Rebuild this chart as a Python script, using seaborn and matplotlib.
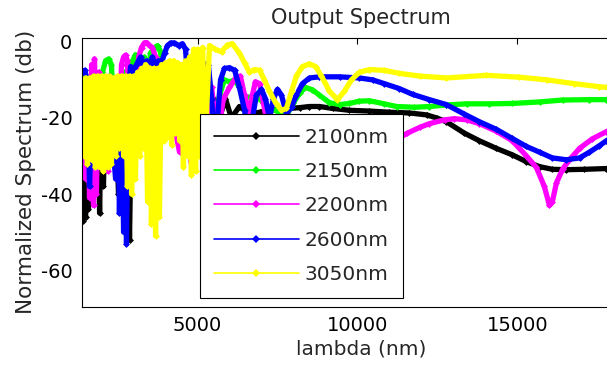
import numpy as np
import pandas as pd
import matplotlib
matplotlib.use("Agg")
import matplotlib.pyplot as plt
import seaborn as sns
from matplotlib.lines import Line2D

# wavelength (nm) / normalized spectrum (dB)
lam_2100 = [1380, 1410, 1470, 1500, 1560, 1590, 1660, 1690, 1750, 1810, 1875, 1940, 2000, 2060, 2125,
            2190, 2250, 2340, 2440, 2530, 2625, 2720, 2810, 2875, 2940, 3030, 3125, 3220, 3310, 3410,
            3500, 3625, 3750, 3875, 4000, 4125, 4220, 4310, 4440, 4560, 4660, 4720, 4810, 4910, 5000,
            5160, 5310, 5500, 5690, 5875, 6060, 6310, 6625, 6940, 7250, 7560, 7875, 8190, 8500, 8810,
            9220, 9750, 10375, 11000, 11625, 12160, 12470, 12780, 13340, 13810, 14340, 14840, 15280,
            15690, 16090, 16530, 17090, 17780, 18810]
db_2100 = [-15, -47, -20, -46, -18, -44, -15, -40, -14, -30, -15, -45, -14, -38, -15,
           -30, -14, -28, -15, -40, -15, -48, -15, -52, -15, -28, -13, -25, -12, -22,
           -12, -24, -11, -22, -12, -24, -20, -13, -14, -11.5, -13, -16, -25, -15, -22,
           -13, -22, -15, -20, -15, -20, -17, -19, -18.5, -18, -17.8, -17.5, -17.3, -17, -17,
           -17.5, -18, -18.2, -18.5, -18.7, -19.2, -20, -21, -24, -26, -28, -29.7, -31.5,
           -32.8, -33.5, -33.6, -33.5, -33.3, -33]

lam_2150 = [1380, 1470, 1560, 1660, 1750, 1840, 1940, 2030, 2125, 2220, 2310, 2410, 2500, 2590, 2690,
            2780, 2875, 2970, 3060, 3160, 3250, 3340, 3440, 3530, 3660, 3750, 3840, 3940, 4030, 4125,
            4220, 4310, 4410, 4500, 4590, 4690, 4780, 4875, 4970, 5060, 5220, 5375, 5530, 5690, 5840,
            6000, 6160, 6250, 6375, 6500, 6690, 6875, 7060, 7250, 7440, 7625, 7810, 8000, 8190, 8375,
            8590, 8810, 9125, 9440, 9750, 10060, 10375, 10840, 11220, 11780, 12250, 12780, 13410,
            14125, 14840, 15690, 16410, 17250, 17780, 18810]
db_2150 = [-12, -9, -25, -12, -28, -12, -30, -8, -5, -4.5, -6, -25, -10, -28, -8,
           -22, -9, -5, -3.4, -6, -20, -4, -18, -3, -1.5, -1, -2.5, -8, -20, -9,
           -22, -10, -8, -6, -6.5, -12, -25, -10, -8, -22, -9, -12, -22, -14, -10,
           -10.5, -10, -11, -13, -14.5, -14.5, -14.5, -16, -17.5, -18, -19, -19, -16, -13.5, -12,
           -12.6, -14, -16, -16.5, -16.2, -15.6, -15.5, -16.3, -17, -17.2, -17, -16.6, -16.3,
           -16.3, -16.2, -15.8, -15.3, -15.2, -15.2, -15]

lam_2200 = [1380, 1440, 1500, 1560, 1625, 1690, 1750, 1780, 1840, 1910, 1970, 2030, 2090, 2160, 2190,
            2250, 2340, 2440, 2530, 2625, 2690, 2750, 2810, 2875, 2970, 3060, 3160, 3250, 3340, 3410,
            3500, 3590, 3690, 3780, 3875, 3970, 4060, 4160, 4250, 4340, 4440, 4500, 4590, 4690, 4750,
            4840, 4940, 5030, 5160, 5280, 5440, 5625, 5810, 6000, 6190, 6340, 6470, 6590, 6690, 6810,
            6940, 7060, 7190, 7410, 7875, 8500, 9440, 10375, 11160, 11560, 11940, 12250, 12720, 13030,
            13410, 13810, 14340, 14840, 15280, 15590, 15840, 16000, 16090, 16220, 16410, 16625,
            16940, 17340, 17780, 18190, 18810]
db_2200 = [-34, -12, -36, -10, -41, -6, -43, -4.5, -40, -8, -30, -12, -28, -10, -34,
           -12, -25, -10, -28, -6, -4, -3.5, -5, -22, -9, -25, -4, -1.5, -0.3, -0.2,
           -1, -1.5, -4, -20, -8, -25, -10, -22, -10, -25, -29, -13, -16, -12, -29,
           -34, -30, -15, -10, -28, -12, -25, -15, -12, -9.5, -9, -14, -19, -15, -10.5,
           -11, -16, -22, -28, -32, -33, -32, -29, -26, -24, -22.5, -21.5, -20.5, -20.2,
           -20.5, -21.5, -23.5, -26, -30, -33, -38, -43, -42, -37, -33.5, -31,
           -28, -25.5, -23.6, -22, -20]

lam_2600 = [1380, 1470, 1560, 1625, 1690, 1750, 1840, 1940, 2030, 2125, 2190, 2250, 2340, 2440, 2500,
            2560, 2625, 2690, 2750, 2780, 2840, 2910, 2970, 3030, 3125, 3220, 3310, 3410, 3500, 3590,
            3690, 3780, 3875, 3970, 4060, 4160, 4280, 4410, 4530, 4625, 4690, 4750, 4810, 4875, 4940,
            5000, 5060, 5160, 5250, 5340, 5440, 5530, 5625, 5720, 5840, 6000, 6160, 6310, 6470, 6590,
            6720, 6840, 7000, 7125, 7250, 7375, 7500, 7625, 7780, 7940, 8090, 8280, 8500, 8810, 9440,
            10060, 10470, 10840, 11310, 11720, 12250, 12780, 13340, 13810, 14340, 14840, 15280, 15690,
            16090, 16530, 16940, 17250, 17560, 17780, 18190, 18810]
db_2600 = [-8, -7.5, -10, -38, -22, -9, -20, -10, -25, -10, -18, -9, -26, -36, -12,
           -45, -14, -50, -20, -53, -12, -6.5, -12, -7, -5.5, -4, -6, -5, -6, -4,
           -6.5, -5, -5.5, -3, -1, -0.3, -0.3, -1, -0.5, -2, -9, -18, -12, -7, -6,
           -10, -20, -6, -5.8, -6, -15, -25, -20, -10, -7, -6.8, -7.5, -12, -18, -24,
           -20, -14, -12.5, -15, -20, -15, -12.5, -14, -19, -17, -14, -11, -9.5, -9.2, -9.2,
           -9.5, -10, -11, -12.3, -13.8, -15.2, -16.5, -19, -21, -23, -25.4, -27.5, -29,
           -30.5, -31, -30.5, -29, -27.3, -26, -24, -21.5]

lam_3050 = [1380, 1440, 1500, 1560, 1625, 1690, 1750, 1810, 1875, 1940, 2000, 2060, 2125, 2190, 2250,
            2310, 2375, 2440, 2500, 2560, 2625, 2690, 2750, 2810, 2875, 2940, 3000, 3060, 3125, 3190,
            3250, 3310, 3375, 3440, 3500, 3560, 3625, 3690, 3750, 3810, 3875, 3940, 4000, 4060, 4125,
            4190, 4250, 4310, 4375, 4440, 4500, 4560, 4625, 4690, 4750, 4810, 4875, 4940, 5000, 5060,
            5160, 5250, 5375, 5560, 5750, 5940, 6090, 6310, 6470, 6625, 6780, 6940, 7090, 7250, 7440,
            7625, 7780, 7940, 8090, 8280, 8500, 8690, 8875, 9125, 9375, 9590, 9810, 10060, 10375,
            10840, 11310, 11940, 12780, 14030, 15060, 15910, 16780, 17560, 18810]
db_3050 = [-10, -30, -9.5, -32, -9.5, -31, -9, -33, -9, -33, -9, -34, -9, -33, -9,
           -32, -9.5, -30, -9, -28, -9, -30, -9, -38, -9, -40, -9, -36, -8, -30,
           -7, -28, -6, -42, -7, -48, -7, -51, -7, -46, -6, -26, -5.5, -25, -5,
           -27, -5, -24, -5.5, -26, -6, -33, -5, -30, -4, -35, -2, -34, -2, -30,
           -1.5, -25, -1, -2, -2.6, -0.8, -0.5, -3, -5.5, -8, -7.3, -7.5, -10, -13, -16,
           -18, -17.5, -13, -9, -6.5, -5.8, -6.5, -9, -13, -15.2, -13, -10, -8, -7.3,
           -7.5, -8.3, -9, -9.5, -8.8, -9.3, -10, -11, -11.8, -12.8]

labels = ["2100nm", "2150nm", "2200nm", "2600nm", "3050nm"]
colors = ["#000000", "#00ff00", "#ff00ff", "#0000ff", "#ffff00"]
lams = [lam_2100, lam_2150, lam_2200, lam_2600, lam_3050]
dbs = [db_2100, db_2150, db_2200, db_2600, db_3050]

frames = []
for lab, lx, ly in zip(labels, lams, dbs):
    frames.append(pd.DataFrame({"lambda": lx, "db": ly, "series": lab}))
spec_df = pd.concat(frames, ignore_index=True)

sns.set_style("white")
plt.rcParams["font.family"] = ["DejaVu Sans"]
plt.rcParams["axes.unicode_minus"] = False

fig = plt.figure(figsize=(6.07, 3.67), dpi=100)
ax = fig.add_axes([82 / 607, 60.3 / 367, 558 / 607, 268.7 / 367])

sns.lineplot(data=spec_df, x="lambda", y="db", hue="series", hue_order=labels,
             palette=dict(zip(labels, colors)), estimator=None, sort=False,
             marker="D", markersize=3.5, markeredgewidth=0, linewidth=3.8,
             legend=False, ax=ax)

ax.set_xlim(1390, 18830)
ax.set_ylim(-69.6, 1.0)
ax.set_xticks([5000, 10000, 15000])
ax.set_yticks([0, -20, -40, -60])
ax.tick_params(direction="in", length=4, width=0.8, top=True, right=True,
               labelsize=14, colors="black")
ax.tick_params(axis="x", pad=7)
ax.tick_params(axis="y", pad=7)
for sp in ax.spines.values():
    sp.set_color("black")
    sp.set_linewidth(0.8)

ax.set_title("Output Spectrum", fontsize=15, pad=10)
ax.set_xlabel("lambda (nm)", fontsize=14.5, labelpad=3)
ax.set_ylabel("Normalized Spectrum (db)", fontsize=15.5, labelpad=3)

handles = [Line2D([0], [0], color=c, lw=1.2, marker="D", markersize=4.5,
                  markeredgewidth=0) for c in colors]
leg = ax.legend(handles, labels, loc="lower left", bbox_to_anchor=(0.2115, 0.032),
                borderaxespad=0, fontsize=14.5, handlelength=4.2, handletextpad=0.3,
                borderpad=0.7, labelspacing=0.76, fancybox=False, framealpha=1)
leg.get_frame().set_edgecolor("black")
leg.get_frame().set_linewidth(0.8)

fig.savefig("out.png", dpi=100)
